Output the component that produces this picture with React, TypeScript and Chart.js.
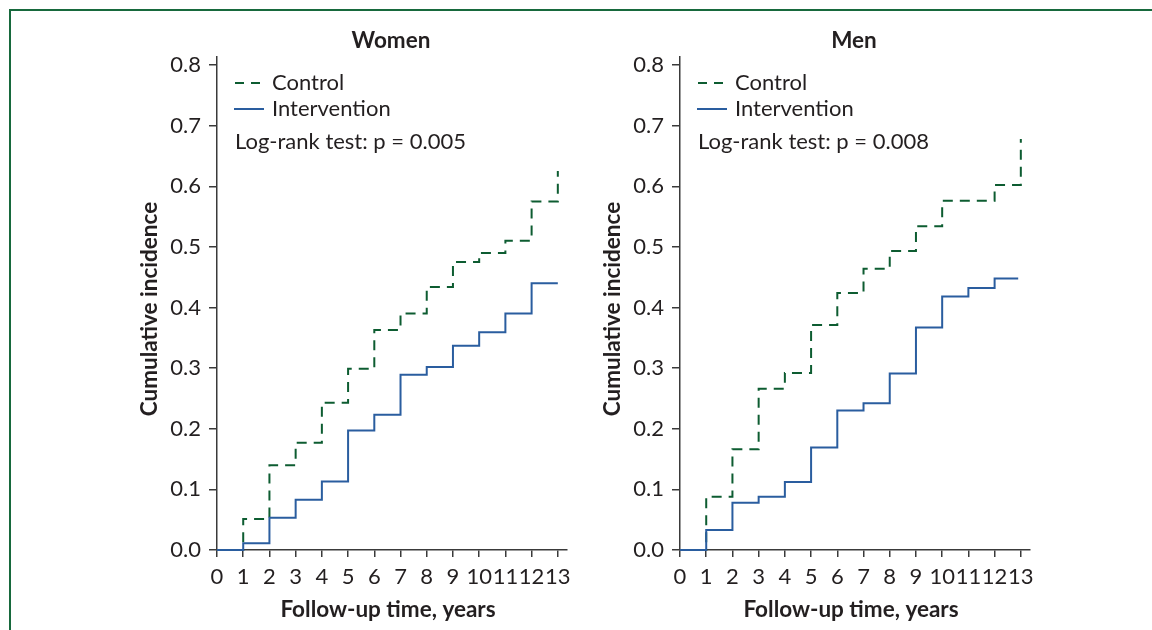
import React, { useEffect, useRef } from "react";
import { Chart, registerables } from "chart.js";

Chart.register(...registerables);

const years = [0, 1, 2, 3, 4, 5, 6, 7, 8, 9, 10, 11, 12, 13];
const xTickValues = [0, 1, 2, 3, 4, 5, 6, 7, 8, 9, 10, 11, 12, 13];
const yTickValues = [0, 0.1, 0.2, 0.3, 0.4, 0.5, 0.6, 0.7, 0.8];

const womenControl = [0, 0.051, 0.14, 0.177, 0.243, 0.299, 0.363, 0.39, 0.434, 0.475, 0.49, 0.51, 0.575, 0.625];
const womenIntervention = [0, 0.011, 0.053, 0.083, 0.113, 0.197, 0.223, 0.289, 0.302, 0.337, 0.359, 0.39, 0.44, 0.44];

const menYearsIntervention = [0, 1, 2, 3, 4, 5, 6, 7, 8, 9, 10, 11, 12, 12.9];
const menControl = [0, 0.088, 0.166, 0.266, 0.292, 0.371, 0.424, 0.464, 0.493, 0.534, 0.576, 0.576, 0.602, 0.678];
const menIntervention = [0, 0.033, 0.078, 0.088, 0.112, 0.169, 0.23, 0.242, 0.291, 0.367, 0.418, 0.432, 0.448, 0.448];

const seriesNames = ["Control", "Intervention"];
const panelTitles = ["Women", "Men"];
const pValues = ["Log-rank test: p = 0.005", "Log-rank test: p = 0.008"];
const xTitle = "Follow-up time, years";
const yTitle = "Cumulative incidence";

const FONT = "Lato, 'Open Sans', sans-serif";
const TEXT = "#231f20";
const AXIS = "#3a3a3a";
const GREEN = "#0d5c31";
const BLUE = "#2a5d9f";

const panelPlugin = {
  id: "panelText",
  afterDraw(chart: any) {
    const o = chart.options.plugins.panelText;
    if (!o) return;
    const { ctx, chartArea } = chart;
    const l = chartArea.left;
    ctx.save();
    ctx.fillStyle = TEXT;
    ctx.textBaseline = "middle";
    ctx.font = `bold 22.5px ${FONT}`;
    ctx.textAlign = "center";
    ctx.fillText(o.title, l + 174, 41);
    ctx.fillText(o.xTitle, l + 171, 610);
    ctx.save();
    ctx.translate(l - 67, 309);
    ctx.rotate(-Math.PI / 2);
    ctx.fillText(o.yTitle, 0, 0);
    ctx.restore();
    ctx.font = `22px ${FONT}`;
    ctx.textAlign = "left";
    ctx.strokeStyle = GREEN;
    ctx.lineWidth = 2;
    ctx.setLineDash([9, 7]);
    ctx.beginPath();
    ctx.moveTo(l + 18, 83);
    ctx.lineTo(l + 46, 83);
    ctx.stroke();
    ctx.setLineDash([]);
    ctx.strokeStyle = BLUE;
    ctx.beginPath();
    ctx.moveTo(l + 17, 109);
    ctx.lineTo(l + 47, 109);
    ctx.stroke();
    ctx.fillText(o.names[0], l + 55, 83);
    ctx.fillText(o.names[1], l + 55, 109);
    ctx.fillText(o.p, l + 18, 142);
    ctx.restore();
  },
};

function makeConfig(idx: number): any {
  const ctrl = idx === 0 ? womenControl : menControl;
  const intv = idx === 0 ? womenIntervention : menIntervention;
  const intvYears = idx === 0 ? years : menYearsIntervention;
  return {
    type: "line",
    data: {
      datasets: [
        {
          label: seriesNames[0],
          data: years.map((x, i) => ({ x, y: ctrl[i] })),
          borderColor: GREEN,
          borderWidth: 2,
          borderDash: [10, 7],
          stepped: "before",
          pointRadius: 0,
          fill: false,
          clip: false,
          order: 1,
        },
        {
          label: seriesNames[1],
          data: intvYears.map((x, i) => ({ x, y: intv[i] })),
          borderColor: BLUE,
          borderWidth: 2,
          stepped: "before",
          pointRadius: 0,
          fill: false,
          clip: false,
          order: 0,
        },
      ],
    },
    options: {
      animation: false,
      responsive: false,
      maintainAspectRatio: false,
      layout: { padding: { top: 57, right: 23, bottom: 0, left: 0 } },
      plugins: {
        legend: { display: false },
        tooltip: { enabled: false },
        title: { display: false },
        panelText: { title: panelTitles[idx], names: seriesNames, p: pValues[idx], xTitle, yTitle },
      },
      scales: {
        x: {
          type: "linear",
          min: 0,
          max: 13.35,
          afterBuildTicks: (s: any) => {
            s.ticks = xTickValues.map((v) => ({ value: v }));
          },
          afterFit: (s: any) => {
            s.height = 80;
          },
          grid: { display: true, drawOnChartArea: false, drawTicks: true, tickLength: 7, color: AXIS, lineWidth: 1.5 },
          border: { display: true, color: AXIS, width: 1.5, z: -1 },
          ticks: {
            autoSkip: false,
            maxRotation: 0,
            padding: 7,
            color: TEXT,
            font: { family: FONT, size: 22 },
            callback: (v: any) => String(v),
          },
        },
        y: {
          min: 0,
          max: 0.8132,
          afterBuildTicks: (s: any) => {
            s.ticks = yTickValues.map((v) => ({ value: v }));
          },
          afterFit: (s: any) => {
            s.width = 97;
          },
          grid: { display: true, drawOnChartArea: false, drawTicks: true, tickLength: 8, color: AXIS, lineWidth: 1.5 },
          border: { display: true, color: AXIS, width: 1.5 },
          ticks: {
            padding: 8,
            color: TEXT,
            font: { family: FONT, size: 22 },
            callback: (v: any) => Number(v).toFixed(1),
          },
        },
      },
    },
    plugins: [panelPlugin],
  };
}

function Panel({ idx, left }: { idx: number; left: number }) {
  const ref = useRef<HTMLCanvasElement>(null);
  useEffect(() => {
    if (!ref.current) return;
    const chart = new Chart(ref.current, makeConfig(idx));
    return () => chart.destroy();
  }, [idx]);
  return (
    <canvas
      ref={ref}
      width={470}
      height={630}
      style={{ position: "absolute", left, top: 0, width: 470, height: 630 }}
    />
  );
}

export default function App() {
  return (
    <div style={{ position: "fixed", left: 0, top: 0, width: 1152, height: 630, background: "#fff", overflow: "hidden" }}>
      <div
        style={{
          position: "absolute",
          left: 9,
          top: 9,
          width: 1300,
          height: 800,
          borderLeft: "2px solid #17693d",
          borderTop: "2px solid #17693d",
        }}
      />
      <Panel idx={0} left={120} />
      <Panel idx={1} left={583} />
    </div>
  );
}
